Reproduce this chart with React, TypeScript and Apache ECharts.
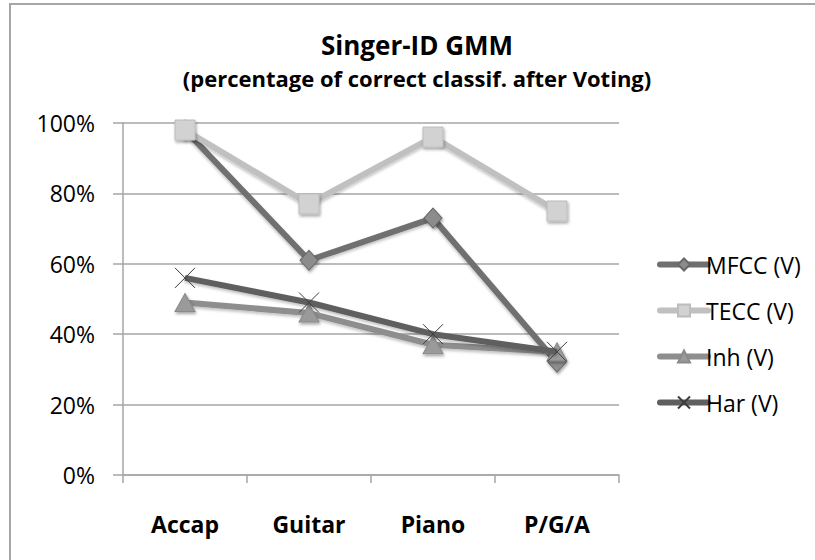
import React, { useEffect, useRef } from "react";
import * as echarts from "echarts";

const categories = ["Accap", "Guitar", "Piano", "P/G/A"];
const mfcc = [98, 61, 73, 32];
const tecc = [98, 77, 96, 75];
const inh = [49, 46, 37, 35];
const har = [56, 49, 40, 35];
const yTicks = [0, 20, 40, 60, 80, 100];

const FONT = "'Open Sans', 'Noto Sans', sans-serif";

export default function App() {
  const ref = useRef<HTMLDivElement>(null);
  useEffect(() => {
    if (!ref.current) return;
    const chart = echarts.init(ref.current, null, { renderer: "svg" });
    const shadow = { shadowBlur: 3, shadowColor: "rgba(0,0,0,0.35)", shadowOffsetY: 2, shadowOffsetX: 1 };
    const lineShadow = { shadowBlur: 3, shadowColor: "rgba(0,0,0,0.25)", shadowOffsetY: 2 };
    chart.setOption({
      animation: false,
      backgroundColor: "#ffffff",
      textStyle: { fontFamily: FONT },
      graphic: [
        {
          type: "rect",
          shape: { x: 10, y: 4, width: 900, height: 700 },
          style: { fill: "none", stroke: "#a6a6a6", lineWidth: 2 },
          silent: true,
        },
      ],
      title: {
        text: "Singer-ID GMM",
        subtext: "(percentage of correct classif. after Voting)",
        left: 412,
        textAlign: "center",
        top: 27,
        itemGap: 9,
        textStyle: { fontFamily: FONT, fontSize: 26, fontWeight: "bold", color: "#000" },
        subtextStyle: { fontFamily: FONT, fontSize: 22, fontWeight: "bold", color: "#000" },
      },
      legend: {
        orient: "vertical",
        left: 652,
        top: 248,
        itemWidth: 48,
        itemHeight: 15,
        itemGap: 23,
        lineStyle: { width: 6, cap: "round" },
        textStyle: { fontFamily: FONT, fontSize: 23, color: "#000", padding: [0, 0, 0, -7] },
        data: ["MFCC (V)", "TECC (V)", "Inh (V)", "Har (V)"],
      },
      grid: { left: 123, right: 196, top: 123, bottom: 85 },
      xAxis: {
        type: "category",
        data: categories,
        boundaryGap: true,
        axisLine: { lineStyle: { color: "#a6a6a6", width: 1.5 } },
        axisTick: { show: true, length: 8, lineStyle: { color: "#a6a6a6", width: 1.5 } },
        axisLabel: { margin: 37, fontFamily: FONT, fontSize: 23, fontWeight: "bold", color: "#000" },
      },
      yAxis: {
        type: "value",
        min: yTicks[0],
        max: yTicks[yTicks.length - 1],
        interval: 20,
        axisLine: { show: true, lineStyle: { color: "#a6a6a6", width: 1.5 } },
        axisTick: { show: true, length: 10, lineStyle: { color: "#a6a6a6", width: 1.5 } },
        splitLine: { lineStyle: { color: "#a6a6a6", width: 1.5 } },
        axisLabel: { margin: 28, fontFamily: FONT, fontSize: 23, color: "#000", formatter: "{value}%" },
      },
      series: [
        {
          name: "MFCC (V)",
          type: "line",
          data: mfcc,
          symbol: "diamond",
          symbolSize: [18, 20],
          lineStyle: { color: "#6f6f6f", width: 6, ...lineShadow },
          itemStyle: { color: "#8c8c8c", borderColor: "#686868", borderWidth: 1, ...shadow },
          z: 2,
        },
        {
          name: "TECC (V)",
          type: "line",
          data: tecc,
          symbol: "rect",
          symbolSize: 20,
          lineStyle: { color: "#c0c0c0", width: 6, ...lineShadow },
          itemStyle: { color: "#d2d2d2", borderColor: "#bcbcbc", borderWidth: 1, ...shadow },
          z: 3,
        },
        {
          name: "Inh (V)",
          type: "line",
          data: inh,
          symbol: "triangle",
          symbolSize: [20, 18],
          lineStyle: { color: "#8e8e8e", width: 6, ...lineShadow },
          itemStyle: { color: "#9a9a9a", borderColor: "#8a8a8a", borderWidth: 1, ...shadow },
          z: 4,
        },
        {
          name: "Har (V)",
          type: "line",
          data: har,
          symbol: "path://M0,0L10,10M10,0L0,10",
          symbolSize: 20,
          lineStyle: { color: "#5f5f5f", width: 6, ...lineShadow },
          itemStyle: { color: "#3c3c3c", borderColor: "#3c3c3c", borderWidth: 1 },
          z: 5,
        },
      ],
    });
    return () => chart.dispose();
  }, []);
  return (
    <div
      ref={ref}
      style={{ position: "fixed", left: 0, top: 0, width: 815, height: 560, background: "#fff" }}
    />
  );
}
